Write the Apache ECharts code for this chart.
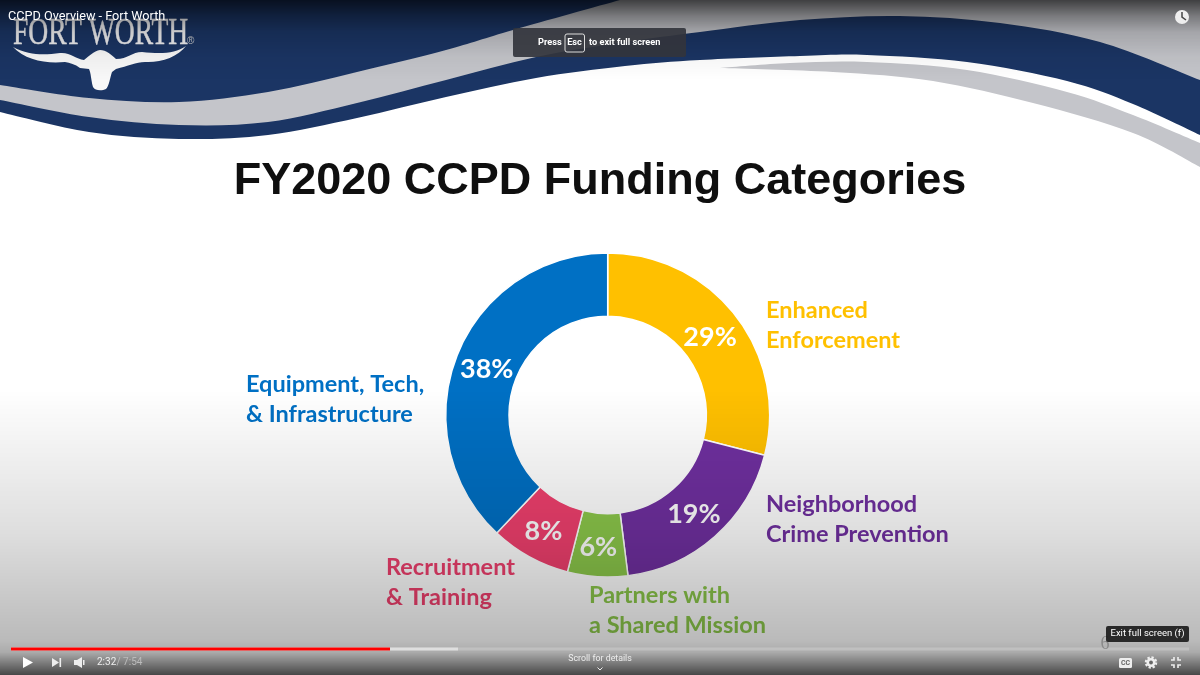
<!DOCTYPE html>
<html><head><meta charset="utf-8">
<style>html,body{margin:0;padding:0;background:#fff}#c{width:1200px;height:675px}</style>
<script src="https://cdn.jsdelivr.net/npm/echarts@6/dist/echarts.min.js"></script>
</head><body><div id="c"></div>
<script>
// ---- chart data ----
const titleText = 'FY2020 CCPD Funding Categories';
const categories = ['Enhanced\nEnforcement', 'Neighborhood\nCrime Prevention', 'Partners with\na Shared Mission', 'Recruitment\n& Training', 'Equipment, Tech,\n& Infrastructure'];
const values = [29, 19, 6, 8, 38];
const colors = ['#ffc000', '#7030a0', '#8cc84b', '#f0406e', '#0070c4'];
const labelAnchors = [[766, 325], [766, 519], [589, 610], [386, 582], [246, 399]];
const percentNudges = [[-3, 4], [-2, -1], [-1, -1], [0, -1], [3, 3]];

// ---- slide decoration geometry ----
const silverTop = [[0,85],[89,98],[179,102],[268,92],[357,72],[446,50],[513,30],[620,0]];
const silverLow = [[0,100],[89,117],[179,125],[268,122],[357,103],[446,80],[536,57],[625,42],[700,32],[800,20],[900,16],[1000,23],[1100,42],[1200,80]];
const navyLow = [[0,112],[89,132],[179,139],[268,135],[357,118],[446,97],[536,78],[625,66],[700,60],[800,56],[867,55],[967,62],[1067,81],[1133,104],[1200,135]];
const swooshTop = [[720,68],[790,63],[867,62],[967,70],[1067,92],[1133,115],[1200,143]];
const swooshLow = [[720,68],[833,72],[933,81],[1033,103],[1133,133],[1200,167]];

function spline(p) {
  let d = '';
  for (let i = 0; i < p.length - 1; i++) {
    const a = p[Math.max(i - 1, 0)], b = p[i], c = p[i + 1], e = p[Math.min(i + 2, p.length - 1)];
    d += ` C${b[0] + (c[0] - a[0]) / 6} ${b[1] + (c[1] - a[1]) / 6} ${c[0] - (e[0] - b[0]) / 6} ${c[1] - (e[1] - b[1]) / 6} ${c[0]} ${c[1]}`;
  }
  return d;
}
const rev = a => a.slice().reverse();
const P = (pts) => `M${pts[0][0]} ${pts[0][1]}` + spline(pts);

const navyPath = `M0 0 L1200 0 L1200 135` + spline(rev(navyLow)) + ' Z';
const silverPath = P(silverTop) + ' L1200 0 L1200 80' + spline(rev(silverLow)) + ' Z';
const swooshPath = P(swooshTop) + ' L1200 167' + spline(rev(swooshLow)) + ' Z';
const hornPath = 'M13 47 C30 56 45 55 60 53 C70 52 76 59 84 60 C88 57 94 51 100 50 C106 50 112 55 116 59 C128 59 132 52 142 52 C160 54 175 54 186 46 C178 57 160 63 145 62 C136 62 128 66 116 69 L112 72 C110 78 109 86 106 89 C102 91 95 91 93 87 C91 80 91 73 89 69 L80 68 C75 64 70 63 65 62 C46 64 25 60 13 47 Z';

function svgShape(name, d) {
  echarts.graphic.registerShape(name, echarts.graphic.extendPath(d, {}));
  return name;
}
svgShape('navyShape', navyPath);
svgShape('silverShape', silverPath);
svgShape('swooshShape', swooshPath);
svgShape('hornShape', hornPath);

const g = [];
// background slide
g.push({type:'rect', z:-5, silent:true, shape:{x:0,y:0,width:1200,height:675}, style:{fill:'#fff'}});
g.push({type:'navyShape', z:-4, silent:true, style:{fill:'#1b3564'}});
g.push({type:'silverShape', z:-3, silent:true, style:{fill:'#c4c5ca'}});
g.push({type:'swooshShape', z:-3, silent:true, style:{fill:'#c4c5ca'}});
g.push({type:'text', z:-2, silent:true, x:13, y:53, scaleX:0.726, style:{x:0, y:0, text:'FORT WORTH', font:'38px "Liberation Serif"', fill:'#f0f0f2', stroke:'#e4e4e6', lineWidth:0.5, textVerticalAlign:'bottom'}});
g.push({type:'text', z:-2, silent:true, style:{x:187, y:36, text:'®', font:'10px "Liberation Sans"', fill:'#c9cacc'}});
g.push({type:'hornShape', z:-2, silent:true, style:{fill:'#f8f8f8'}});
// slide title and outer category labels
g.push({type:'text', silent:true, style:{x:600, y:182, text:titleText, font:'bold 45px "Liberation Sans"', fill:'#0f0f0f', textAlign:'center', textVerticalAlign:'middle'}});
categories.forEach((c,i) => {
  g.push({type:'text', silent:true, style:{x:labelAnchors[i][0], y:labelAnchors[i][1], text:c, font:'bold 23.5px Lato', lineHeight:30, fill:colors[i], textAlign:'left', textVerticalAlign:'middle'}});
});
// player overlays (above the slide)
const Z = {zlevel:1, silent:true};
const add = o => g.push(Object.assign({}, Z, o));
add({type:'rect', shape:{x:0,y:0,width:1200,height:80}, style:{fill:{type:'linear',x:0,y:0,x2:0,y2:1,colorStops:[{offset:0,color:'rgba(0,0,0,0.68)'},{offset:0.2,color:'rgba(0,0,0,0.38)'},{offset:0.4,color:'rgba(0,0,0,0.16)'},{offset:0.7,color:'rgba(0,0,0,0.04)'},{offset:1,color:'rgba(0,0,0,0)'}]}}});
add({type:'rect', shape:{x:0,y:390,width:1200,height:285}, style:{fill:{type:'linear',x:0,y:0,x2:0,y2:1,colorStops:[{offset:0,color:'rgba(0,0,0,0)'},{offset:0.5,color:'rgba(0,0,0,0.13)'},{offset:0.88,color:'rgba(0,0,0,0.27)'},{offset:0.92,color:'rgba(0,0,0,0.33)'},{offset:1,color:'rgba(0,0,0,0.72)'}]}}});
add({type:'text', style:{x:8, y:17, text:'CCPD Overview - Fort Worth', font:'12.7px Roboto', fill:'#fff', textVerticalAlign:'middle'}});
add({type:'circle', shape:{cx:1182,cy:17,r:7}, style:{fill:'#eee'}});
add({type:'polyline', shape:{points:[[1182,12],[1182,17],[1186,20]]}, style:{stroke:'#444',lineWidth:1.5,fill:null}});
// fullscreen hint
add({type:'rect', shape:{x:513,y:28,width:173,height:29,r:2}, style:{fill:'rgba(50,52,60,0.92)'}});
add({type:'text', style:{x:538, y:43, text:'Press', font:'bold 9.2px Roboto', fill:'#fff', textVerticalAlign:'middle'}});
add({type:'rect', shape:{x:565,y:34,width:19.5,height:18,r:2}, style:{fill:'none',stroke:'#ddd',lineWidth:1}});
add({type:'text', style:{x:574.5, y:43, text:'Esc', font:'bold 9.2px Roboto', fill:'#fff', textAlign:'center', textVerticalAlign:'middle'}});
add({type:'text', style:{x:589, y:43, text:'to exit full screen', font:'bold 9.2px Roboto', fill:'#fff', textVerticalAlign:'middle'}});
// progress bar
add({type:'rect', shape:{x:11,y:647.5,width:1178,height:3}, style:{fill:'rgba(255,255,255,0.2)'}});
add({type:'rect', shape:{x:11,y:647.5,width:447,height:3}, style:{fill:'rgba(255,255,255,0.5)'}});
add({type:'rect', shape:{x:11,y:647.5,width:379,height:3}, style:{fill:'#f00'}});
add({type:'text', style:{x:1105, y:644, text:'6', font:'18px "Liberation Serif"', fill:'#8a8a8a', textAlign:'center', textVerticalAlign:'middle'}});
add({type:'rect', shape:{x:1106,y:626,width:83,height:16,r:2}, style:{fill:'rgba(28,28,28,0.92)'}});
add({type:'text', style:{x:1147.5, y:634, text:'Exit full screen (f)', font:'9.5px Roboto', fill:'#fff', textAlign:'center', textVerticalAlign:'middle'}});
// controls
add({type:'polygon', shape:{points:[[23,657],[33,662.5],[23,668]]}, style:{fill:'#fff'}});
add({type:'polygon', shape:{points:[[52,658],[59,662.5],[52,667]]}, style:{fill:'#eee'}});
add({type:'rect', shape:{x:59.5,y:658,width:1.6,height:9}, style:{fill:'#eee'}});
add({type:'polygon', shape:{points:[[74,660],[77,660],[82,657],[82,668],[77,665],[74,665]]}, style:{fill:'#eee'}});
add({type:'rect', shape:{x:83,y:660,width:1.5,height:5}, style:{fill:'#eee'}});
add({type:'text', style:{x:97, y:662, text:'2:32', font:'10px Roboto', fill:'#eee', textVerticalAlign:'middle'}});
add({type:'text', style:{x:114, y:662, text:' / 7:54', font:'10px Roboto', fill:'#bbb', textVerticalAlign:'middle'}});
add({type:'text', style:{x:600, y:659, text:'Scroll for details', font:'8.8px Roboto', fill:'#eee', textAlign:'center', textVerticalAlign:'middle'}});
add({type:'polyline', shape:{points:[[597.5,667.5],[600,670],[602.5,667.5]]}, style:{stroke:'#eee',lineWidth:1,fill:null}});
add({type:'rect', shape:{x:1119,y:658,width:13,height:10,r:1.5}, style:{fill:'#eee'}});
add({type:'text', style:{x:1125.5, y:663, text:'CC', font:'bold 7px Roboto', fill:'#666', textAlign:'center', textVerticalAlign:'middle'}});
add({type:'circle', shape:{cx:1151,cy:662.5,r:4.5}, style:{fill:'#eee'}});
add({type:'circle', shape:{cx:1151,cy:662.5,r:5},  style:{fill:'none',stroke:'#eee',lineWidth:2.5,lineDash:[2.2,1.7]}});
add({type:'circle', shape:{cx:1151,cy:662.5,r:1.9}, style:{fill:'#666'}});
[[[1171,660],[1174,660],[1174,657]],[[1178,657],[1178,660],[1181,660]],[[1171,665],[1174,665],[1174,668]],[[1178,668],[1178,665],[1181,665]]].forEach(p=>{
  add({type:'polyline', shape:{points:p}, style:{stroke:'#eee',lineWidth:1.6,fill:null}});
});

const chart = echarts.init(document.getElementById('c'), null, {renderer:'canvas'});
chart.setOption({
  animation:false,
  backgroundColor:'#fff',
  graphic:{elements:g},
  series:[{
    type:'pie', silent:true, startAngle:90, clockwise:true, center:[607.7,415], radius:[98.7,162],
    minAngle:0, avoidLabelOverlap:false,
    itemStyle:{borderColor:'#fff', borderWidth:1.5},
    label:{show:true, position:'inside', formatter:p=>p.value+'%', fontFamily:'Lato', fontWeight:'bold', fontSize:27, color:'#fff'},
    labelLine:{show:false},
    data:categories.map((n,i)=>({name:n.replace('\n',' '), value:values[i], itemStyle:{color:colors[i]}, label:{offset:percentNudges[i]}}))
  }]
});
</script></body></html>
